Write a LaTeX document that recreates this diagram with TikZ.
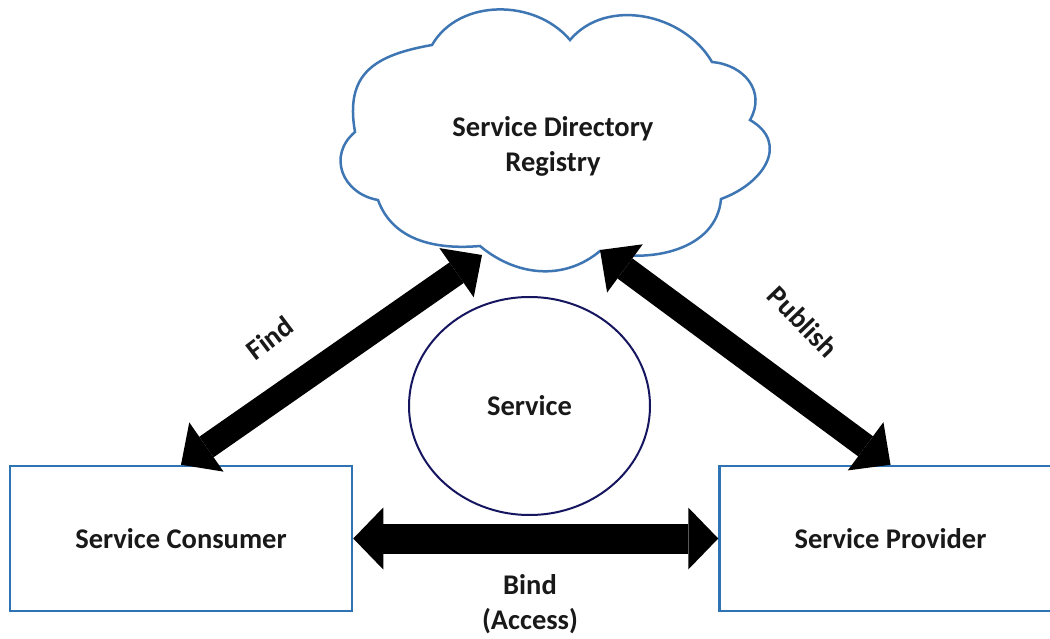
\documentclass[tikz,border=0pt]{standalone}
\usepackage{fontspec}
\setmainfont{Carlito}
\usetikzlibrary{arrows.meta,shapes.geometric}
\definecolor{boxblue}{RGB}{46,116,181}
\definecolor{cloudblue}{RGB}{62,118,180}
\definecolor{navy}{RGB}{22,22,96}
\definecolor{txt}{RGB}{25,25,25}
\begin{document}
\begin{tikzpicture}[x=1pt,y=1pt,
  lbl/.style={font=\fontsize{28.5}{35}\selectfont\bfseries, text=txt, inner sep=0pt, align=center},
  box/.style={lbl, draw=boxblue, line width=2.5pt, fill=white, minimum width=342pt, minimum height=145pt},
  oval/.style={lbl, ellipse, draw=navy, line width=2pt, fill=white, minimum width=241pt, minimum height=218pt},
  cloudline/.style={draw=cloudblue, line width=2.5pt, fill=white, line join=miter},
  diagarrow/.style={line width=25pt, {Triangle[length=31pt,width=60pt,line width=0pt]}-{Triangle[length=31pt,width=60pt,line width=0pt]}},
  bindarrow/.style={line width=30pt, {Triangle[length=30pt,width=62pt,line width=0pt]}-{Triangle[length=30pt,width=62pt,line width=0pt]}}
]
\useasboundingbox (0,0) rectangle (1050,638);
\fill[white] (0,0) rectangle (1050,638);

% cloud
\draw[cloudline] (355,506) to[out=100,in=190,looseness=1.3] (432,593)
  to[out=60,in=130] (570,598)
  to[out=50,in=120] (712,576)
  to[out=-5,in=60,looseness=1.2] (750,518)
  to[out=-30,in=20,looseness=1.4] (721,439)
  to[out=-95,in=-15] (600,387)
  to[out=-140,in=-40] (480,392)
  to[out=185,in=-70] (378,438)
  to[out=170,in=-140,looseness=1.3] cycle;
\node[lbl] (registry) at (553,492) {Service Directory\\Registry};
\coordinate (regL) at (482,383);
\coordinate (regR) at (600,388);

% service
\node[oval] (service) at (529.5,232) {Service};

% boxes
\node[box] (consumer) at (181,99.5) {Service Consumer};
\node[box] (provider) at (890.5,99.5) {Service Provider};

% arrows
\draw[diagarrow] (consumer.north) -- (regL);
\draw[diagarrow] (regR) -- (provider.north);
\draw[bindarrow] (consumer.east) -- (provider.west);

% labels
\node[lbl, rotate=37] (find) at (270,300) {Find};
\node[lbl, rotate=-46] (publish) at (803,316) {Publish};
\node[lbl] (bind) at (530,34) {Bind\\(Access)};
\end{tikzpicture}
\end{document}
